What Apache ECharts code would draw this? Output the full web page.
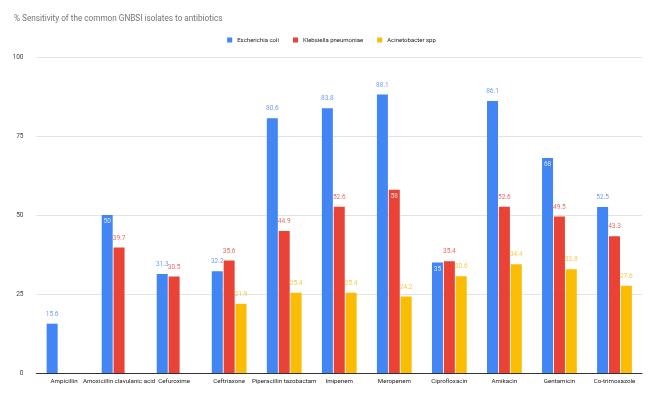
<!DOCTYPE html>
<html><head><meta charset="utf-8">
<script src="https://cdn.jsdelivr.net/npm/echarts@6/dist/echarts.min.js"></script>
<style>html,body{margin:0;padding:0;background:#fff}#c{width:663px;height:394px}</style>
</head><body><div id="c"></div>
<script>
const categories = ['Ampicillin','Amoxicillin clavulanic acid','Cefuroxime','Ceftriaxone','Piperacillin tazobactam','Imipenem','Meropenem','Ciprofloxacin','Amikacin','Gentamicin','Co-trimoxazole'];
const ecoli = [15.6, 50, 31.3, 32.2, 80.6, 83.8, 88.1, 35, 86.1, 68, 52.5];
const kpneu = [null, 39.7, 30.5, 35.6, 44.9, 52.6, 58, 35.4, 52.6, 49.5, 43.3];
const acin = [null, null, null, 21.9, 25.4, 25.4, 24.2, 30.6, 34.4, 32.8, 27.6];
const yTicks = [0, 25, 50, 75, 100];

const insideE = [false, true, false, false, false, false, false, true, false, true, false];
const insideK = [false, false, false, false, false, false, true, false, false, false, false];
const insideA = [false, false, false, false, false, false, false, false, false, false, false];

function mk(vals, inside) {
  return vals.map((v, i) => (v == null ? null : {
    value: v,
    label: inside[i] ? { position: 'insideTop', color: 'rgba(255,255,255,0.8)', distance: 3 } : {}
  }));
}
const chart = echarts.init(document.getElementById('c'), null, {renderer: 'canvas'});
const lbl = (c) => ({ show: true, position: 'top', fontSize: 6.5, color: c, distance: 6, fontFamily: 'Roboto' });
chart.setOption({
  animation: false,
  title: { text: '% Sensitivity of the common GNBSI isolates to antibiotics', left: 9, top: 10,
    textStyle: { fontSize: 8.2, fontWeight: 'normal', color: '#757575', fontFamily: 'Roboto' } },
  legend: { top: 32, left: 'center', itemWidth: 5, itemHeight: 5, itemGap: 14, icon: 'rect',
    textStyle: { fontSize: 6, color: '#222', fontFamily: 'Roboto' } },
  grid: { left: 36.5, right: 21, top: 57, bottom: 21, containLabel: false },
  xAxis: { type: 'category', data: categories,
    axisLine: { lineStyle: { color: '#333', width: 1 } }, axisTick: { show: false },
    axisLabel: { fontSize: 6.2, color: '#222', interval: 0, margin: 5, fontFamily: 'Roboto' } },
  yAxis: { type: 'value', min: yTicks[0], max: yTicks[yTicks.length-1], interval: 25,
    axisLine: { show: false }, axisTick: { show: false },
    splitLine: { lineStyle: { color: '#e3e3e3' } },
    axisLabel: { fontSize: 6.5, color: '#444', margin: 13, fontFamily: 'Roboto' } },
  series: [
    { name: 'Escherichia coli', type: 'bar', data: mk(ecoli, insideE), itemStyle: { color: '#4285F4' },
      barWidth: 11, barGap: '8%', label: lbl('#6f9ff5') },
    { name: 'Klebsiella pneumoniae', type: 'bar', data: mk(kpneu, insideK), itemStyle: { color: '#EA4335' },
      barWidth: 11, barGap: '8%', label: lbl('#ef6b5f') },
    { name: 'Acinetobacter spp', type: 'bar', data: mk(acin, insideA), itemStyle: { color: '#FBBC04' },
      barWidth: 11, barGap: '8%', label: lbl('#f8c84a') }
  ]
});
</script></body></html>
